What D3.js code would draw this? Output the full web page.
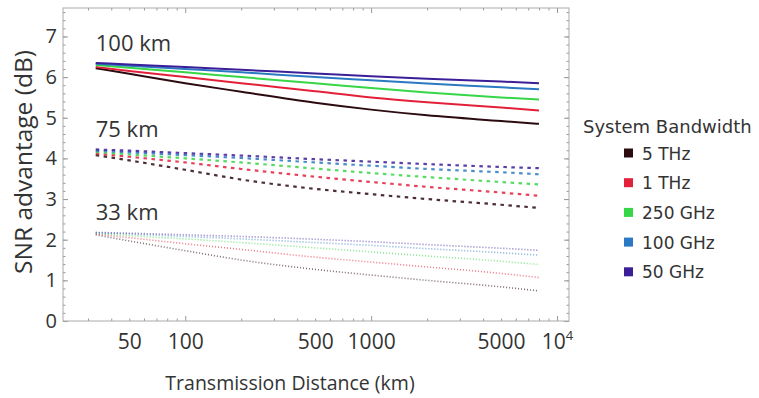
<!DOCTYPE html>
<html>
<head>
<meta charset="utf-8">
<script src="https://cdn.jsdelivr.net/npm/d3@7"></script>
<style>
  body { margin: 0; background: #fff; }
  text { font-family: "Open Sans", sans-serif; fill: #333; }
  .legend text { font-family: "DejaVu Sans", sans-serif; }
</style>
</head>
<body>
<svg width="759" height="398"></svg>
<script>
const svg = d3.select("svg");

// distances (km) at which the curves were read
const distances = [33, 50, 100, 200, 500, 1000, 2000, 5000, 8000];
const bandwidths = ["5 THz", "1 THz", "250 GHz", "100 GHz", "50 GHz"];
const colors = ["#2b0b10", "#e3203a", "#36d646", "#2a79c2", "#3b1f99"];
const spanLabels = ["100 km", "75 km", "33 km"];

// SNR advantage (dB), one row per bandwidth
const span100 = [
  [6.22, 6.08, 5.85, 5.64, 5.37, 5.20, 5.06, 4.92, 4.85],
  [6.25, 6.15, 6.00, 5.85, 5.65, 5.50, 5.38, 5.25, 5.18],
  [6.30, 6.23, 6.12, 6.00, 5.85, 5.73, 5.62, 5.50, 5.45],
  [6.33, 6.28, 6.20, 6.12, 6.00, 5.92, 5.84, 5.75, 5.70],
  [6.35, 6.31, 6.25, 6.18, 6.09, 6.02, 5.96, 5.89, 5.85]
];
const span75 = [
  [4.08, 3.95, 3.72, 3.48, 3.25, 3.12, 3.00, 2.86, 2.78],
  [4.12, 4.04, 3.90, 3.74, 3.55, 3.42, 3.30, 3.16, 3.08],
  [4.16, 4.10, 4.00, 3.90, 3.75, 3.64, 3.54, 3.42, 3.36],
  [4.19, 4.15, 4.08, 4.01, 3.90, 3.82, 3.74, 3.66, 3.61],
  [4.22, 4.19, 4.13, 4.07, 3.98, 3.92, 3.86, 3.79, 3.76]
];
const span33 = [
  [2.12, 1.97, 1.73, 1.50, 1.27, 1.13, 1.00, 0.84, 0.74],
  [2.14, 2.05, 1.90, 1.76, 1.57, 1.45, 1.33, 1.17, 1.07],
  [2.16, 2.10, 2.02, 1.93, 1.80, 1.70, 1.60, 1.47, 1.39],
  [2.17, 2.14, 2.08, 2.02, 1.93, 1.86, 1.78, 1.68, 1.62],
  [2.18, 2.16, 2.12, 2.08, 2.01, 1.95, 1.88, 1.79, 1.74]
];

const xLabels = [50, 100, 500, 1000, 5000, 10000];
const yTicks = [0, 1, 2, 3, 4, 5, 6, 7];

const pLeft = 63, pRight = 569, pTop = 8, pBottom = 321;

const x = d3.scaleLog().domain([22, 11600]).range([pLeft, pRight]);
const y = d3.scaleLinear().domain([0, 7.7]).range([pBottom, pTop]);

// minor ticks
const xMinor = [];
[10, 100, 1000].forEach(dec => { for (let k = 2; k <= 9; k++) xMinor.push(k * dec); });
xMinor.push(10000);
const xMinorIn = xMinor.filter(v => v >= 22 && v <= 11600);
const yMinor = d3.range(0, 7.61, 0.2);

const tickCol = "#999";

function styleAxis(g) {
  g.select(".domain").remove();
  g.selectAll(".tick line").attr("stroke", tickCol);
}

// left axis
svg.append("g").attr("transform", `translate(${pLeft},0)`)
  .call(d3.axisLeft(y).tickValues(yMinor).tickSize(-2.5).tickFormat(""))
  .call(styleAxis);
svg.append("g").attr("transform", `translate(${pLeft},0)`)
  .call(d3.axisLeft(y).tickValues(yTicks).tickSize(-5).tickPadding(6).tickFormat(d3.format("d")))
  .call(styleAxis)
  .selectAll("text").attr("font-size", 20).attr("fill", "#2a2a2a");
// right axis
svg.append("g").attr("transform", `translate(${pRight},0)`)
  .call(d3.axisRight(y).tickValues(yMinor).tickSize(-2.5).tickFormat(""))
  .call(styleAxis);
svg.append("g").attr("transform", `translate(${pRight},0)`)
  .call(d3.axisRight(y).tickValues(yTicks).tickSize(-5).tickFormat(""))
  .call(styleAxis);

// bottom axis
svg.append("g").attr("transform", `translate(0,${pBottom})`)
  .call(d3.axisBottom(x).tickValues(xMinorIn).tickSize(-2.5).tickFormat(""))
  .call(styleAxis);
svg.append("g").attr("transform", `translate(0,${pBottom})`)
  .call(d3.axisBottom(x).tickValues([100, 1000, 10000]).tickSize(-5).tickFormat(""))
  .call(styleAxis);
const xl = svg.append("g").attr("transform", `translate(0,${pBottom})`)
  .call(d3.axisBottom(x).tickValues(xLabels).tickSize(0).tickFormat(""))
  .call(styleAxis);
xl.selectAll(".tick text").remove();
xl.selectAll(".tick").append("text")
  .attr("y", 28).attr("text-anchor", "middle").attr("font-size", 21).attr("fill", "#2a2a2a")
  .each(function (d) {
    const t = d3.select(this);
    if (d === 10000) {
      t.text("10");
      t.append("tspan").attr("dy", -9).attr("font-size", 13).text("4");
    } else t.text(d);
  });
// top axis
svg.append("g").attr("transform", `translate(0,${pTop})`)
  .call(d3.axisTop(x).tickValues(xMinorIn).tickSize(-2.5).tickFormat(""))
  .call(styleAxis);
svg.append("g").attr("transform", `translate(0,${pTop})`)
  .call(d3.axisTop(x).tickValues([100, 1000, 10000]).tickSize(-5).tickFormat(""))
  .call(styleAxis);

// frame
svg.append("rect")
  .attr("x", pLeft).attr("y", pTop)
  .attr("width", pRight - pLeft).attr("height", pBottom - pTop)
  .attr("fill", "none").attr("stroke", "#aaa").attr("stroke-width", 1);

// curves
const line = d3.line()
  .x((d, i) => x(distances[i]))
  .y(d => y(d))
  .curve(d3.curveMonotoneX);

const groups = [
  { data: span100, dash: null, width: 2, opacity: 1 },
  { data: span75, dash: "3.5,4.5", width: 2.2, opacity: 0.85 },
  { data: span33, dash: "1,2", width: 1.6, opacity: 0.6 }
];

groups.forEach((grp, gi) => {
  svg.append("g").selectAll("path")
    .data(grp.data)
    .join("path")
    .attr("d", line)
    .attr("fill", "none")
    .attr("stroke", (d, i) => colors[i])
    .attr("stroke-width", grp.width)
    .attr("stroke-opacity", grp.opacity)
    .attr("stroke-dasharray", grp.dash);

  const startMax = d3.max(grp.data, r => r[0]);
  svg.append("text")
    .attr("x", x(distances[0]))
    .attr("y", y(startMax + 0.3))
    .attr("font-size", 22)
    .attr("fill", "#222")
    .text(spanLabels[gi]);
});

// axis titles
svg.append("text")
  .attr("transform", `translate(32,162) rotate(-90)`)
  .attr("text-anchor", "middle")
  .attr("font-size", 24.5)
  .attr("fill", "#2a2a2a")
  .text("SNR advantage (dB)");

svg.append("text")
  .attr("x", 290).attr("y", 390)
  .attr("text-anchor", "middle")
  .attr("font-size", 19.5)
  .attr("fill", "#2a2a2a")
  .text("Transmission Distance (km)");

// legend
const legend = svg.append("g").attr("class", "legend");
legend.append("text")
  .attr("x", 583).attr("y", 133)
  .attr("font-size", 18).attr("fill", "#222")
  .text("System Bandwidth");
const items = legend.selectAll("g.item")
  .data(bandwidths)
  .join("g")
  .attr("class", "item")
  .attr("transform", (d, i) => `translate(624,${153 + i * 29.7})`);
items.append("rect")
  .attr("x", 0).attr("y", -4.5)
  .attr("width", 9).attr("height", 9)
  .attr("fill", (d, i) => colors[i]);
items.append("text")
  .attr("x", 18).attr("y", 6.5)
  .attr("font-size", 17).attr("fill", "#333")
  .text(d => d);
</script>
</body>
</html>
